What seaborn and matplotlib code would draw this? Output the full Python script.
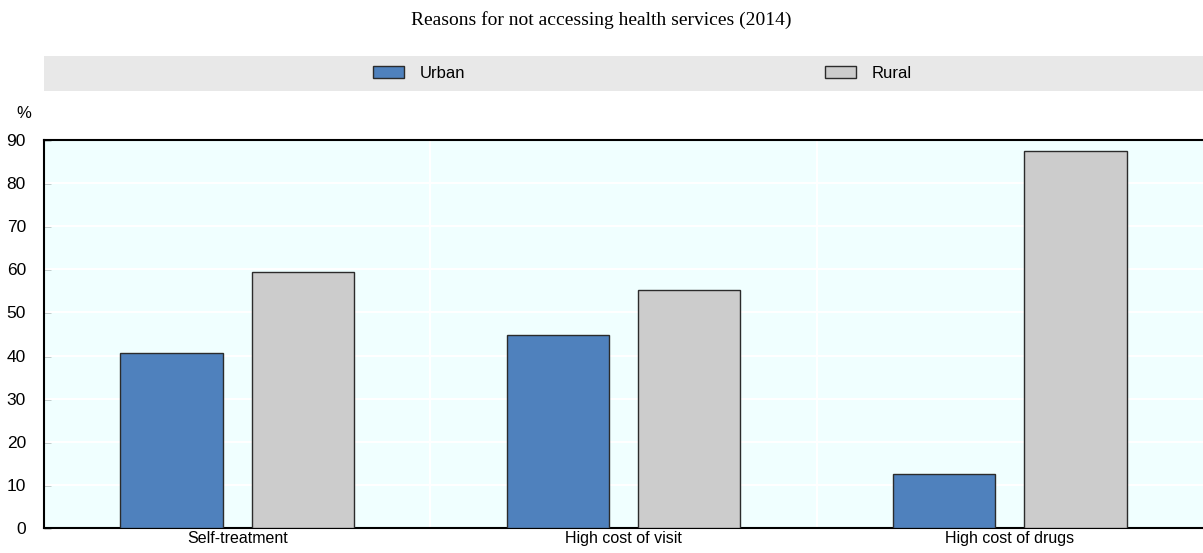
import matplotlib
matplotlib.use("Agg")
import matplotlib.pyplot as plt
import seaborn as sns
import pandas as pd
from matplotlib.patches import Rectangle

# Data
CATEGORIES = ["Self-treatment", "High cost of visit", "High cost of drugs"]
URBAN = [40.6, 44.8, 12.6]
RURAL = [59.4, 55.2, 87.4]
SERIES = ["Urban", "Rural"]
COLORS = ["#4F81BD", "#CCCCCC"]
Y_TICKS = [0, 10, 20, 30, 40, 50, 60, 70, 80, 90]

df = pd.DataFrame({
    "category": CATEGORIES * 2,
    "value": URBAN + RURAL,
    "series": [SERIES[0]] * len(CATEGORIES) + [SERIES[1]] * len(CATEGORIES),
})

sns.set_theme(style="white")
plt.rcParams["font.family"] = ["Liberation Sans", "DejaVu Sans"]
plt.rcParams["text.color"] = "black"

fig = plt.figure(figsize=(12.03, 5.53), dpi=100)
ax = fig.add_axes([44 / 1203, 25 / 553, 1 - 44 / 1203, (528 - 140) / 553])
ax.set_facecolor("#F0FFFF")

sns.barplot(data=df, x="category", y="value", hue="series", order=CATEGORIES,
            hue_order=SERIES, palette=COLORS, width=0.68, gap=0.22,
            edgecolor="#2b2b2b", linewidth=1.0, saturation=1, ax=ax, zorder=3)

ax.set_ylim(0, 90)
ax.set_xlim(-0.5, 2.5)
ax.set_yticks(Y_TICKS)
ax.set_xlabel("")
ax.set_ylabel("")

# gridlines: white horizontal, white vertical at category boundaries
for y in Y_TICKS[1:]:
    ax.axhline(y, color="white", linewidth=1.5, zorder=1)
for xb in [0.5, 1.5]:
    ax.axvline(xb, color="white", linewidth=1.5, zorder=1)

ax.set_xticks([0.5, 1.5], minor=True)
ax.tick_params(axis="x", which="major", length=0, labelsize=11.5, pad=2,
               labelcolor="black")
ax.tick_params(axis="x", which="minor", direction="in", length=5, width=1.2,
               color="black", bottom=True)
ax.tick_params(axis="y", direction="in", length=5, width=1, color="black",
               labelsize=12.5, pad=13, left=True, labelcolor="black")

for side in ["left", "bottom", "top"]:
    ax.spines[side].set_visible(True)
    ax.spines[side].set_color("black")
    ax.spines[side].set_linewidth(1.5)
ax.spines["right"].set_visible(False)

# legend band
fig.patches.append(Rectangle((44 / 1203, 1 - 91 / 553), 1 - 44 / 1203, 35 / 553,
                             transform=fig.transFigure, facecolor="#E8E8E8",
                             edgecolor="none", zorder=0))
handles, labels = ax.get_legend_handles_labels()
ax.legend_.remove()
fig.legend(handles, labels, loc="center left",
           bbox_to_anchor=(373 / 1203, 1 - 73.5 / 553), ncol=2, frameon=False,
           borderpad=0, borderaxespad=0, handlelength=1.85, handleheight=0.7,
           handletextpad=0.95, columnspacing=21.6, fontsize=12)

fig.text(24 / 1203, 1 - 113 / 553, "%", ha="center", va="center", fontsize=12)
fig.text(0.5, 1 - 20 / 553, "Reasons for not accessing health services (2014)",
         ha="center", va="center", fontsize=14,
         family=["Liberation Serif", "DejaVu Serif"])

fig.savefig("out.png", dpi=100)
